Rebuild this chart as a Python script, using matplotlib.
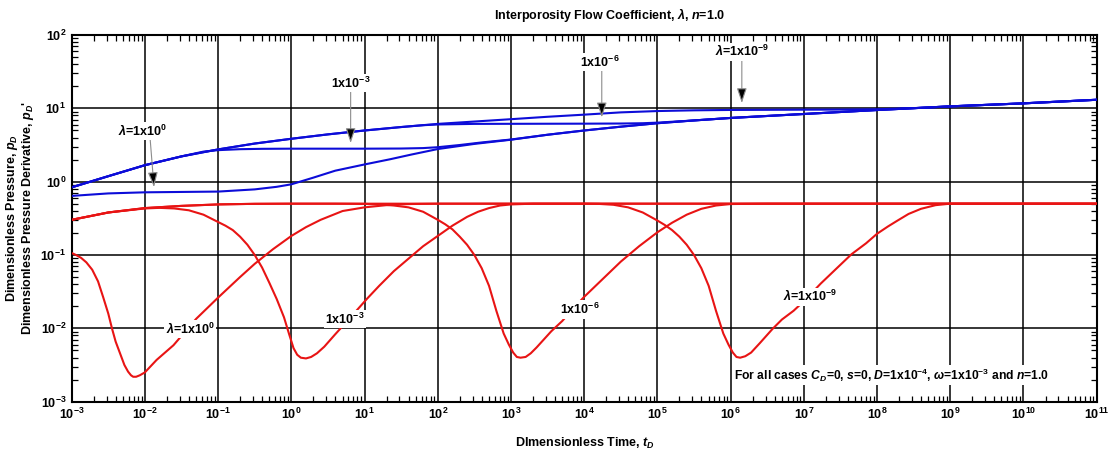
import numpy as np
import matplotlib
matplotlib.use('Agg')
import matplotlib.pyplot as plt
from matplotlib.ticker import FixedLocator, FuncFormatter, LogLocator, NullFormatter

plt.rcParams['font.family'] = ['Liberation Sans', 'DejaVu Sans']
plt.rcParams['font.weight'] = 'bold'
plt.rcParams['mathtext.fontset'] = 'custom'
plt.rcParams['mathtext.rm'] = 'Liberation Sans:bold'
plt.rcParams['mathtext.it'] = 'Liberation Sans:italic:bold'
plt.rcParams['mathtext.bf'] = 'Liberation Sans:bold'

# values, stored as log10(tD) / log10(value)

# --- pressure pD (blue) ---
pd_lam0_t = [-3, -2.5, -2, -1.5, -1, -0.5, -0.2, 0, 0.3, 0.6, 1.0, 1.35, 1.64, 2.0, 2.5,
             3.0, 3.5, 4.0, 4.5, 5.0, 5.5, 6.0, 7.0, 8.0, 9.0, 10.0, 11.0]
pd_lam0 = [-0.194, -0.16, -0.145, -0.14, -0.135, -0.105, -0.07, -0.036, 0.055, 0.15, 0.235, 0.306,
           0.37, 0.445, 0.515, 0.572, 0.64, 0.698, 0.75, 0.797, 0.835, 0.869, 0.923, 0.977,
           1.027, 1.068, 1.117]

pd_lam3_t = [-3, -2.5, -2, -1.5, -1.2, -1, -0.7, -0.4, 0, 0.5, 1.0, 1.5, 1.8, 2.0, 2.3, 2.6,
             3.0, 3.5, 4.0, 4.5, 5.0, 5.5, 6.0, 7.0, 8.0, 9.0, 10.0, 11.0]
pd_lam3 = [-0.077, 0.075, 0.225, 0.345, 0.41, 0.43, 0.443, 0.448, 0.45, 0.45, 0.45, 0.452,
           0.458, 0.47, 0.5, 0.535, 0.575, 0.64, 0.698, 0.75, 0.797, 0.835, 0.869, 0.923,
           0.977, 1.027, 1.068, 1.117]

pd_lam6_t = [-3, -2.5, -2, -1.5, -1, -0.5, 0, 0.5, 1.0, 1.5, 1.8, 2.0, 2.5, 3.0, 3.5, 4.0,
             4.5, 4.8, 5.0, 5.5, 6.0, 7.0, 8.0, 9.0, 10.0, 11.0]
pd_lam6 = [-0.077, 0.075, 0.225, 0.345, 0.44, 0.52, 0.585, 0.645, 0.698, 0.745, 0.77, 0.78,
           0.788, 0.789, 0.79, 0.791, 0.793, 0.797, 0.805, 0.835, 0.869, 0.923, 0.977, 1.027,
           1.068, 1.117]

pd_lam9_t = [-3, -2.5, -2, -1.5, -1, -0.5, 0, 0.5, 1.0, 1.5, 2.0, 2.5, 3.0, 3.5, 4.0, 4.5,
             5.0, 5.5, 6.0, 7.0, 7.5, 8.0, 8.5, 9.0, 10.0, 11.0]
pd_lam9 = [-0.077, 0.075, 0.225, 0.345, 0.44, 0.52, 0.585, 0.645, 0.698, 0.745, 0.788, 0.82,
           0.852, 0.885, 0.914, 0.945, 0.963, 0.973, 0.978, 0.982, 0.983, 0.987, 1.003, 1.027,
           1.068, 1.117]

# --- derivative pD' (red) ---
dp_lam0_t = [-3, -2.94, -2.87, -2.8, -2.72, -2.64, -2.57, -2.5, -2.45, -2.4, -2.34, -2.28,
             -2.23, -2.19, -2.16, -2.12, -2.07, -2.0, -1.84, -1.61, -1.3, -1.0, -0.7, -0.5,
             -0.25, 0.0, 0.2, 0.4, 0.7, 1.0, 1.3, 1.6, 2.0, 11]
dp_lam0 = [-0.973, -1.0, -1.04, -1.10, -1.20, -1.36, -1.575, -1.80, -2.0, -2.18, -2.34, -2.50,
           -2.59, -2.64, -2.66, -2.66, -2.64, -2.60, -2.43, -2.23, -1.87, -1.58, -1.30, -1.12,
           -0.92, -0.74, -0.62, -0.52, -0.40, -0.35, -0.32, -0.305, -0.30, -0.30]

dp_lam3_t = [-3, -2.5, -2, -1.8, -1.6, -1.4, -1.2, -1.0, -0.9, -0.8, -0.7, -0.6, -0.5, -0.4,
             -0.3, -0.2, -0.1, -0.03, 0.03, 0.08, 0.13, 0.2, 0.27, 0.35, 0.45, 0.6, 0.8, 1.03,
             1.2, 1.4, 1.6, 1.8, 2.0, 2.2, 2.4, 2.55, 2.7, 2.85, 3.0, 3.3, 11]
dp_lam3 = [-0.52, -0.42, -0.365, -0.357, -0.365, -0.39, -0.45, -0.55, -0.60, -0.66, -0.75,
           -0.86, -1.0, -1.17, -1.38, -1.6, -1.85, -2.08, -2.27, -2.36, -2.40, -2.41, -2.39,
           -2.34, -2.25, -2.08, -1.86, -1.60, -1.42, -1.22, -1.05, -0.88, -0.74, -0.60, -0.48,
           -0.41, -0.36, -0.325, -0.31, -0.30, -0.30]

dp_lam6_t = [-3, -2.5, -2, -1.5, -1, -0.5, 0, 0.6, 1.0, 1.2, 1.4, 1.6, 1.8, 2.0, 2.1, 2.2,
             2.3, 2.4, 2.5, 2.6, 2.7, 2.8, 2.9, 2.97, 3.03, 3.08, 3.13, 3.2, 3.27, 3.35, 3.45,
             3.55, 3.7, 3.85, 4.0, 4.25, 4.5, 4.75, 5.0, 5.2, 5.4, 5.6, 5.8, 6.0, 6.5, 11]
dp_lam6 = [-0.52, -0.42, -0.36, -0.33, -0.31, -0.302, -0.30, -0.30, -0.303, -0.31, -0.325,
           -0.35, -0.41, -0.52, -0.58, -0.65, -0.75, -0.86, -1.0, -1.18, -1.42, -1.76, -2.07,
           -2.22, -2.33, -2.39, -2.40, -2.39, -2.34, -2.26, -2.15, -2.04, -1.90, -1.73, -1.57,
           -1.33, -1.09, -0.88, -0.69, -0.56, -0.45, -0.37, -0.325, -0.305, -0.30, -0.30]

dp_lam9_t = [-3, -2.5, -2, -1.5, -1, -0.5, 0, 1, 2, 3, 4.0, 4.2, 4.4, 4.6, 4.8, 5.0, 5.1,
             5.2, 5.3, 5.4, 5.5, 5.6, 5.7, 5.8, 5.9, 5.97, 6.03, 6.08, 6.13, 6.2, 6.28, 6.4,
             6.57, 6.7, 6.86, 7.0, 7.23, 7.45, 7.65, 7.85, 8.0, 8.15, 8.28, 8.43, 8.6, 8.8, 9.0,
             9.5, 11]
dp_lam9 = [-0.52, -0.42, -0.36, -0.33, -0.31, -0.302, -0.30, -0.30, -0.30, -0.30, -0.30,
           -0.303, -0.315, -0.35, -0.42, -0.53, -0.59, -0.66, -0.75, -0.86, -1.0, -1.18, -1.42,
           -1.76, -2.07, -2.22, -2.33, -2.39, -2.40, -2.38, -2.33, -2.20, -2.01, -1.88, -1.76,
           -1.63, -1.39, -1.18, -0.99, -0.84, -0.71, -0.61, -0.53, -0.44, -0.37, -0.32, -0.30,
           -0.30, -0.30]

decades = list(range(-3, 12))

BLUE = '#0c0cd8'
RED = '#e81414'

fig = plt.figure(figsize=(11.12, 4.54), dpi=100)
ax = fig.add_axes([71.7 / 1112, 1 - 401.7 / 454, (1096.7 - 71.7) / 1112, (401.7 - 35) / 454])
ax.set_xscale('log')
ax.set_yscale('log')
ax.set_xlim(1e-3, 1e11)
ax.set_ylim(1e-3, 1e2)

for tx, vy in [(pd_lam0_t, pd_lam0), (pd_lam3_t, pd_lam3), (pd_lam6_t, pd_lam6), (pd_lam9_t, pd_lam9)]:
    ax.plot(10.0 ** np.array(tx), 10.0 ** np.array(vy), color=BLUE, lw=1.5, zorder=3)
for tx, vy in [(dp_lam0_t, dp_lam0), (dp_lam3_t, dp_lam3), (dp_lam6_t, dp_lam6), (dp_lam9_t, dp_lam9)]:
    ax.plot(10.0 ** np.array(tx), 10.0 ** np.array(vy), color=RED, lw=1.5, zorder=3)

# ticks / grid
ax.xaxis.set_major_locator(FixedLocator([10.0 ** d for d in decades]))
ax.yaxis.set_major_locator(FixedLocator([10.0 ** d for d in range(-3, 3)]))
ax.xaxis.set_minor_locator(LogLocator(base=10, subs=np.arange(2, 10), numticks=30))
ax.yaxis.set_minor_locator(LogLocator(base=10, subs=np.arange(2, 10), numticks=30))
ax.xaxis.set_minor_formatter(NullFormatter())
ax.yaxis.set_minor_formatter(NullFormatter())
fmt = FuncFormatter(lambda v, p: r'$10^{%d}$' % int(round(np.log10(v))))
ax.xaxis.set_major_formatter(fmt)
ax.yaxis.set_major_formatter(fmt)
ax.tick_params(which='both', direction='in', top=True, right=True)
ax.tick_params(which='major', length=0, labelsize=9, pad=4)
ax.tick_params(which='minor', length=4.5, width=0.9)
ax.grid(which='major', color='k', lw=1.1)
for s in ax.spines.values():
    s.set_linewidth(1.5)

box = dict(boxstyle='square,pad=0.12', fc='white', ec='none')
arrow = dict(arrowstyle='-|>,head_length=0.9,head_width=0.3', ec='0.55', fc='k', lw=0.8,
             shrinkA=0, shrinkB=0)


def lbl(s, lx, ly, size=9):
    ax.text(10.0 ** lx, 10.0 ** ly, s, ha='center', va='center', fontsize=size,
            fontweight='bold', bbox=box, zorder=6)


# blue labels with arrows
lbl(r'$\lambda$=1x10$^{0}$', -2.03, 0.69)
ax.annotate('', xy=(10 ** -1.876, 10 ** -0.074), xytext=(10 ** -1.93, 10 ** 0.6),
            arrowprops=arrow, zorder=5)
lbl(r'1x10$^{-3}$', 0.818, 1.345)
ax.annotate('', xy=(10 ** 0.81, 10 ** 0.527), xytext=(10 ** 0.81, 10 ** 1.22),
            arrowprops=arrow, zorder=5)
lbl(r'1x10$^{-6}$', 4.22, 1.63)
ax.annotate('', xy=(10 ** 4.24, 10 ** 0.877), xytext=(10 ** 4.24, 10 ** 1.52),
            arrowprops=arrow, zorder=5)
lbl(r'$\lambda$=1x10$^{-9}$', 6.153, 1.77)
ax.annotate('', xy=(10 ** 6.153, 10 ** 1.072), xytext=(10 ** 6.153, 10 ** 1.66),
            arrowprops=arrow, zorder=5)

# red labels
lbl(r'$\lambda$=1x10$^{0}$', -1.38, -2.01)
lbl(r'1x10$^{-3}$', 0.734, -1.874)
lbl(r'1x10$^{-6}$', 3.937, -1.742)
lbl(r'$\lambda$=1x10$^{-9}$', 7.084, -1.57)
lbl(r'For all cases $C_D$=0, $s$=0, $D$=1x10$^{-4}$, $\omega$=1x10$^{-3}$ and $n$=1.0',
    8.2, -2.638, size=8.7)

fig.text(0.5486, 0.967, r'Interporosity Flow Coefficient, $\lambda$, $n$=1.0', ha='center',
         va='center', fontsize=9, fontweight='bold')
fig.text(585 / 1112, 1 - 443 / 454, r'DImensionless Time, $t_D$', ha='center', va='center',
         fontsize=9, fontweight='bold')
fig.text(12 / 1112, 0.52, r'Dimensionless Pressure, $p_D$', rotation=90, ha='center',
         va='center', fontsize=9, fontweight='bold')
fig.text(28 / 1112, 0.52, r"Dimensionless Pressure Derivative, $p_D$'", rotation=90,
         ha='center', va='center', fontsize=9, fontweight='bold')

fig.savefig('out.png', dpi=100)
